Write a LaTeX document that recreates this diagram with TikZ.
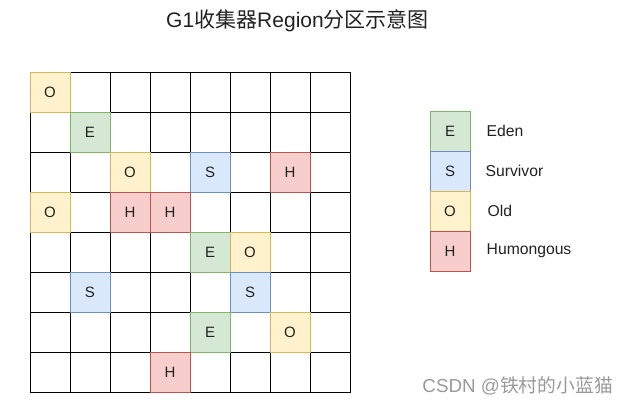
\documentclass[tikz,border=0pt]{standalone}
\usepackage{fontspec}
\setmainfont{Liberation Sans}
\newfontfamily\cjk{Noto Sans CJK SC}
\definecolor{efill}{HTML}{D5E8D4}\definecolor{edraw}{HTML}{82B366}
\definecolor{sfill}{HTML}{DAE8FC}\definecolor{sdraw}{HTML}{6C8EBF}
\definecolor{ofill}{HTML}{FFF2CC}\definecolor{odraw}{HTML}{D6B656}
\definecolor{hfill}{HTML}{F8CECC}\definecolor{hdraw}{HTML}{B85450}
\definecolor{txt}{HTML}{222222}
\tikzset{
  cell/.style={draw=black, line width=1pt, minimum size=40pt, inner sep=0pt, outer sep=0pt,
    font=\fontsize{15}{15}\selectfont, text=txt},
  eden/.style={cell, fill=efill, draw=edraw},
  surv/.style={cell, fill=sfill, draw=sdraw},
  old/.style={cell, fill=ofill, draw=odraw},
  hum/.style={cell, fill=hfill, draw=hdraw},
  legtext/.style={anchor=west, inner sep=0pt, font=\fontsize{15.7}{15.7}\selectfont, text=txt}
}
\begin{document}
\begin{tikzpicture}[x=1pt,y=-1pt]
\useasboundingbox (0,0) rectangle (628,405);
\node[text=txt] (title) at (297.5,21) {\fontsize{21}{21}\selectfont G1{\cjk 收集器}Region{\cjk 分区示意图}};
\foreach \r in {0,...,7}{
  \foreach \c in {0,...,7}{
    \node[cell] (g-\r-\c) at ({50+40*\c},{92+40*\r}) {};
  }
}
\node[old]  (r00) at (g-0-0) {O};
\node[eden] (r11) at (g-1-1) {E};
\node[old]  (r22) at (g-2-2) {O};
\node[surv] (r24) at (g-2-4) {S};
\node[hum]  (r26) at (g-2-6) {H};
\node[old]  (r30) at (g-3-0) {O};
\node[hum]  (r32) at (g-3-2) {H};
\node[hum]  (r33) at (g-3-3) {H};
\node[eden] (r44) at (g-4-4) {E};
\node[old]  (r45) at (g-4-5) {O};
\node[surv] (r51) at (g-5-1) {S};
\node[surv] (r55) at (g-5-5) {S};
\node[eden] (r64) at (g-6-4) {E};
\node[old]  (r66) at (g-6-6) {O};
\node[hum]  (r73) at (g-7-3) {H};
% legend
\node[eden] (le) at (450,131) {E};
\node[surv] (ls) at (450,171) {S};
\node[old]  (lo) at (450,211) {O};
\node[hum]  (lh) at (450,251) {H};
\node[legtext] (te) at (486.5,131) {Eden};
\node[legtext] (ts) at (485.5,171) {Survivor};
\node[legtext] (to) at (487.5,211) {Old};
\node[legtext] (th) at (486.5,251) {Humongous};
% watermark
\node[text=black!40, font=\fontsize{18.8}{18.8}\selectfont, anchor=east, inner sep=0pt] (wm) at (613,386) {CSDN @{\cjk 铁村的小蓝猫}};
\end{tikzpicture}
\end{document}
